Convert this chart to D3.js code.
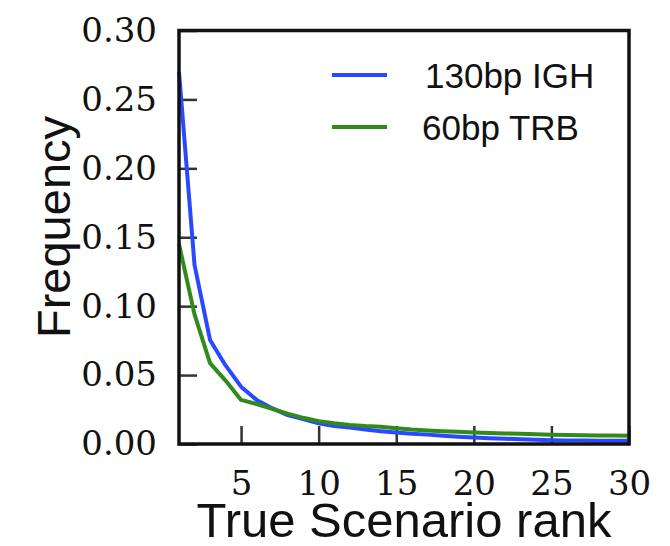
<!DOCTYPE html>
<html>
<head>
<meta charset="utf-8">
<script src="https://cdn.jsdelivr.net/npm/d3@7"></script>
<style>
  body { margin: 0; background: #fff; }
  svg { display: block; }
</style>
</head>
<body>
<div id="chart"></div>
<script>
// ranks on the x axis
var ranks = d3.range(1, 31);

// frequency of the true scenario at each rank
var igh130 = [0.270, 0.130, 0.0755, 0.057, 0.0416, 0.032, 0.026, 0.021, 0.018, 0.015,
              0.013, 0.012, 0.0105, 0.0093, 0.0083, 0.0075, 0.0068, 0.006, 0.0053, 0.0047,
              0.0042, 0.0038, 0.0034, 0.0030, 0.0027, 0.0026, 0.0025, 0.0024, 0.0024, 0.0023];
var trb60 = [0.145, 0.094, 0.0587, 0.046, 0.032, 0.029, 0.0255, 0.022, 0.019, 0.0165,
             0.015, 0.0138, 0.013, 0.0125, 0.0115, 0.0105, 0.0098, 0.0093, 0.0088, 0.0084,
             0.008, 0.0077, 0.0074, 0.0071, 0.0068, 0.0066, 0.0064, 0.0062, 0.0061, 0.006];

var seriesNames = ['130bp IGH', '60bp TRB'];
var xTicks = [5, 10, 15, 20, 25, 30];
var yTicks = [0, 0.05, 0.10, 0.15, 0.20, 0.25, 0.30];

var W = 670, H = 546;
var margin = {top: 30.5, right: 41, bottom: 102, left: 179},
    width = W - margin.left - margin.right,
    height = H - margin.top - margin.bottom;

var svg = d3.select("#chart")
    .append("svg")
    .attr("width", W)
    .attr("height", H)
    .append("g")
    .attr("transform", "translate(" + margin.left + "," + margin.top + ")");

var x = d3.scaleLinear().domain([1, 30]).range([0, width]);
var y = d3.scaleLinear().domain([0, 0.30]).range([height, 0]);

var color = d3.scaleOrdinal().domain(seriesNames).range(['#2a48ff', '#318a1c']);

// axes with ticks pointing inwards
var xAxis = svg.append("g")
    .attr("transform", "translate(0," + height + ")")
    .call(d3.axisBottom(x).tickValues(xTicks).tickSize(-18).tickPadding(27).tickFormat(d3.format("d")));

var yAxis = svg.append("g")
    .call(d3.axisLeft(y).tickValues(yTicks).tickSize(-18).tickPadding(22).tickFormat(d3.format(".2f")));

[xAxis, yAxis].forEach(function (a) {
    a.select(".domain").remove();
    a.selectAll(".tick line").attr("stroke", "#333").attr("stroke-width", 2.5);
    a.selectAll(".tick text")
        .attr("fill", "#111")
        .style("font-family", "'DejaVu Serif', serif")
        .style("font-size", "34px");
});

// the lines
var line = d3.line()
    .x(function (d, i) { return x(ranks[i]); })
    .y(function (d) { return y(d); });

[igh130, trb60].forEach(function (s, i) {
    svg.append("path")
        .datum(s)
        .attr("fill", "none")
        .attr("stroke", color(seriesNames[i]))
        .attr("stroke-width", 4)
        .attr("stroke-linejoin", "round")
        .attr("d", line);
});

// frame
svg.append("rect")
    .attr("width", width)
    .attr("height", height)
    .attr("fill", "none")
    .attr("stroke", "#111")
    .attr("stroke-width", 3.5);

// legend
var legend = svg.append("g").attr("transform", "translate(153,44.5)");
seriesNames.forEach(function (name, i) {
    var g = legend.append("g").attr("transform", "translate(0," + (i * 52) + ")");
    g.append("line")
        .attr("x1", 0).attr("x2", 55)
        .attr("stroke", color(name))
        .attr("stroke-width", 4);
    g.append("text")
        .attr("x", 93 - i * 3)
        .attr("y", 13)
        .attr("fill", "#111")
        .style("font-family", "'Liberation Sans', Arial, sans-serif")
        .style("font-size", "35px")
        .text(name);
});

// axis titles
svg.append("text")
    .attr("x", width / 2)
    .attr("y", height + 93)
    .attr("text-anchor", "middle")
    .attr("fill", "#111")
    .style("font-family", "'Liberation Sans', Arial, sans-serif")
    .style("font-size", "49px")
    .text("True Scenario rank");

svg.append("text")
    .attr("transform", "translate(-109," + (227 - margin.top) + ") rotate(-90)")
    .attr("text-anchor", "middle")
    .attr("fill", "#111")
    .style("font-family", "'Liberation Sans', Arial, sans-serif")
    .style("font-size", "47px")
    .text("Frequency");
</script>
</body>
</html>
